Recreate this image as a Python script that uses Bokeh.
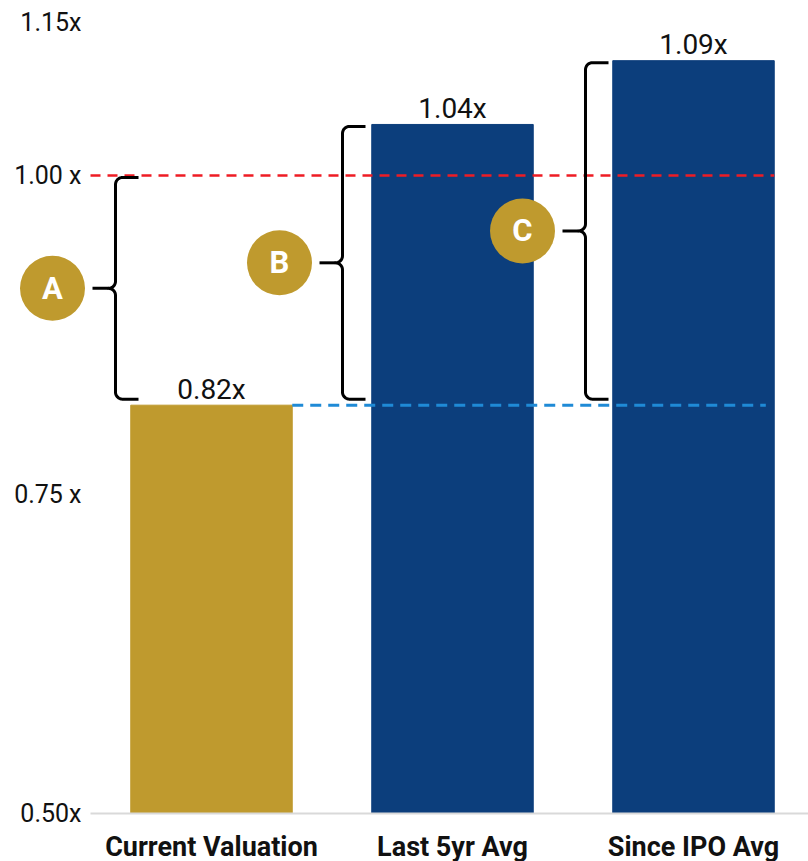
import numpy as np
from bokeh.plotting import figure
from bokeh.models import Range1d, ColumnDataSource
from bokeh.core.properties import value
from bokeh.embed import file_html
from bokeh.resources import INLINE

# ---- data ----
categories = ["Current Valuation", "Last 5yr Avg", "Since IPO Avg"]
multiples = [0.82, 1.04, 1.09]
value_labels = ["0.82x", "1.04x", "1.09x"]
bar_colors = ["#BF9A2E", "#0C3E7C", "#0C3E7C"]
reference_level = 1.00
brace_letters = ["A", "B", "C"]
brace_tops = [reference_level, multiples[1], multiples[2]]
y_ticks = [0.50, 0.75, 1.00, 1.12]
y_tick_labels = ["0.50x", "0.75 x", "1.00 x", "1.15x"]

# ---- layout (pixel scales) ----
PX_X = 241.0     # px per category
PX_Y = 1276.0    # px per 1.0x
FW, FH = 808, 861
BASE_PX = 813    # y px of 0.50x
CENTER0_PX = 211 # x px of first bar centre
x0 = -CENTER0_PX / PX_X
x1 = x0 + FW / PX_X
y_base = y_ticks[0]
y0 = y_base - (FH - BASE_PX) / PX_Y
y1 = y_base + BASE_PX / PX_Y
XS, YS = 1 / PX_X, 1 / PX_Y
AXIS_LEFT_PX = 90

p = figure(frame_width=FW, frame_height=FH, output_backend="svg",
           toolbar_location=None, x_range=Range1d(x0, x1), y_range=Range1d(y0, y1),
           x_axis_location=None, y_axis_location=None,
           min_border=0)
p.outline_line_color = None
p.xgrid.grid_line_color = None
p.ygrid.grid_line_color = None
p.background_fill_color = "white"
p.border_fill_color = "white"

xs = list(range(len(categories)))
bw = 0.67
src = ColumnDataSource(dict(x=xs, top=multiples, color=bar_colors, lab=value_labels,
                            ly=[m + 16 * YS for m in multiples]))
p.vbar(x="x", top="top", bottom=y_base, width=bw, color="color", source=src)

# baseline
p.segment(x0=x0 + AXIS_LEFT_PX * XS, y0=y_base, x1=x1, y1=y_base,
          line_color="#D9D9D9", line_width=2)

# reference lines
p.segment(x0=x0 + AXIS_LEFT_PX * XS, y0=reference_level, x1=xs[2] + bw / 2, y1=reference_level,
          line_color="#EE1C24", line_width=2.5, line_dash="10 7")
p.segment(x0=xs[0] + bw / 2, y0=multiples[0], x1=xs[2] + 0.30, y1=multiples[0],
          line_color="#1F8AD6", line_width=3, line_dash="11 7")

# value labels
p.text(x="x", y="ly", text="lab", source=src, text_align="center",
       text_baseline="alphabetic", text_font=value("Roboto"),
       text_font_size="28px", text_color="#111111")

# y tick labels
p.text(x=[x0 + 81 * XS] * len(y_ticks), y=y_ticks, text=y_tick_labels,
       text_align="right", text_baseline="middle", text_font=value("Roboto"),
       text_font_size="25px", text_color="#111111")

# category labels
p.text(x=xs, y=[y_base - 33 * YS] * len(xs), text=categories,
       text_align="center", text_baseline="middle", text_font=value("Roboto"),
       text_font_style="bold", text_font_size="27px", text_color="#111111")

# braces
brace_dx_px = [-96, -110, -108]
r = 7
arm = 23
def arc(cx, cy, a0, a1, n=10):
    t = np.radians(np.linspace(a0, a1, n))
    return list(cx + r * np.cos(t)), list(cy + r * np.sin(t))

bx_all, by_all = [], []
cxs, cys = [], []
low = multiples[0]
for i, (top, dpx) in enumerate(zip(brace_tops, brace_dx_px)):
    top_px = -2 + (top - low) / YS
    bot_px = 6
    mid_px = (top_px + bot_px) / 2
    xv = dpx
    px, py = [xv + arm], [top_px]
    a, b = arc(xv + r, top_px - r, 90, 180); px += a; py += b
    a, b = arc(xv - r, mid_px + r, 0, -90); px += a; py += b
    a, b = arc(xv - r, mid_px - r, 90, 0); px += a; py += b
    a, b = arc(xv + r, bot_px + r, 180, 270); px += a; py += b
    px.append(xv + arm); py.append(bot_px)
    bx_all.append([xs[i] + v * XS for v in px])
    by_all.append([low + v * YS for v in py])
    bx_all.append([xs[i] + (xv - r) * XS, xs[i] + (xv - arm) * XS])
    by_all.append([low + mid_px * YS, low + mid_px * YS])
    cxs.append(xs[i] + (xv - arm - 40) * XS)
    cys.append(low + mid_px * YS)

p.multi_line(xs=bx_all, ys=by_all, line_color="black", line_width=3,
             line_join="round", line_cap="butt")
p.scatter(x=cxs, y=cys, size=65, marker="circle", fill_color="#BF9A2E", line_color=None)
p.text(x=cxs, y=cys, text=brace_letters, text_align="center", text_baseline="middle",
       text_font=value("Roboto"), text_font_style="bold", text_font_size="31px",
       text_color="white")

open("out.html", "w").write(file_html(p, INLINE))
